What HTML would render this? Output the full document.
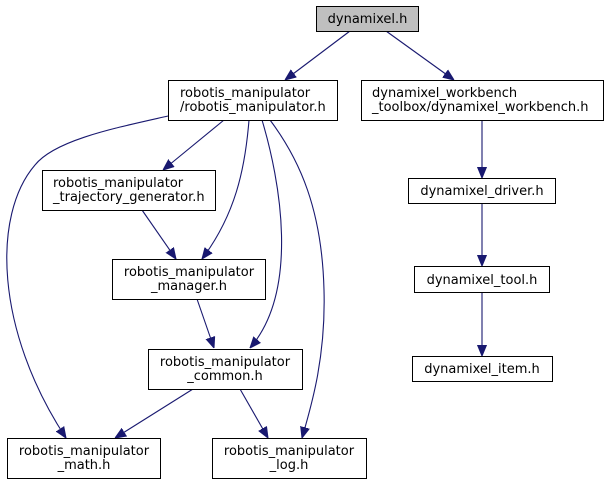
<!DOCTYPE html>
<html><head><meta charset="utf-8"><style>
html,body{margin:0;padding:0;background:#fff;width:608px;height:484px;overflow:hidden}
svg{display:block}
text{font-family:"DejaVu Sans","Liberation Sans",sans-serif;font-size:13px;fill:#000}
.b{fill:#fff;stroke:#000;stroke-width:1}
.e{fill:none;stroke:#191970;stroke-width:1.1}
</style></head><body>
<svg width="608" height="484" viewBox="0 0 608 484">
<defs><marker id="a" viewBox="0 0 11 10" refX="11" refY="5" markerWidth="11" markerHeight="10" markerUnits="userSpaceOnUse" orient="auto"><path d="M0,0.5 L11,5 L0,9.5 z" fill="#191970" stroke="#191970"/></marker></defs>
<g class="e" marker-end="url(#a)">
<path d="M350,31 L285,80"/>
<path d="M386,31 L454,80"/>
<path d="M482,120 L482,178"/>
<path d="M482,203 L482,266"/>
<path d="M482,292 L482,356"/>
<path d="M224,120 L163,170"/>
<path d="M168,116 C115,128 55,140 35,165 C-8,215 -5,330 66,438"/>
<path d="M249,120 C245,170 235,215 202,259"/>
<path d="M262,120 C280,180 300,290 250,348"/>
<path d="M270,120 C300,160 322,210 324,290 C326,360 310,410 302,438"/>
<path d="M142,210 L176,259"/>
<path d="M197,299 L214,348"/>
<path d="M193,389 L115,438"/>
<path d="M240,389 L268,438"/>
</g>
<rect x="316.5" y="6.5" width="102" height="25" fill="#bfbfbf" stroke="#000"/>
<text x="367.5" y="23" text-anchor="middle">dynamixel.h</text>
<rect class="b" x="168.5" y="80.5" width="169" height="40"/>
<text x="180" y="97">robotis_manipulator</text><text x="180" y="111">/robotis_manipulator.h</text>
<rect class="b" x="361.5" y="80.5" width="242" height="40"/>
<text x="372" y="97">dynamixel_workbench</text><text x="372" y="111">_toolbox/dynamixel_workbench.h</text>
<rect class="b" x="42.5" y="170.5" width="173" height="40"/>
<text x="53" y="187">robotis_manipulator</text><text x="53" y="201">_trajectory_generator.h</text>
<rect class="b" x="408.5" y="178.5" width="147" height="25"/>
<text x="482" y="195" text-anchor="middle">dynamixel_driver.h</text>
<rect class="b" x="112.5" y="259.5" width="153" height="40"/>
<text x="189" y="276" text-anchor="middle">robotis_manipulator</text><text x="189" y="290" text-anchor="middle">_manager.h</text>
<rect class="b" x="414.5" y="266.5" width="135" height="26"/>
<text x="482" y="284" text-anchor="middle">dynamixel_tool.h</text>
<rect class="b" x="148.5" y="349.5" width="154" height="40"/>
<text x="225" y="366" text-anchor="middle">robotis_manipulator</text><text x="225" y="380" text-anchor="middle">_common.h</text>
<rect class="b" x="412.5" y="356.5" width="140" height="25"/>
<text x="482" y="373" text-anchor="middle">dynamixel_item.h</text>
<rect class="b" x="7.5" y="438.5" width="153" height="40"/>
<text x="84" y="455" text-anchor="middle">robotis_manipulator</text><text x="84" y="469" text-anchor="middle">_math.h</text>
<rect class="b" x="212.5" y="438.5" width="154" height="40"/>
<text x="289" y="455" text-anchor="middle">robotis_manipulator</text><text x="289" y="469" text-anchor="middle">_log.h</text>
</svg>
</body></html>
